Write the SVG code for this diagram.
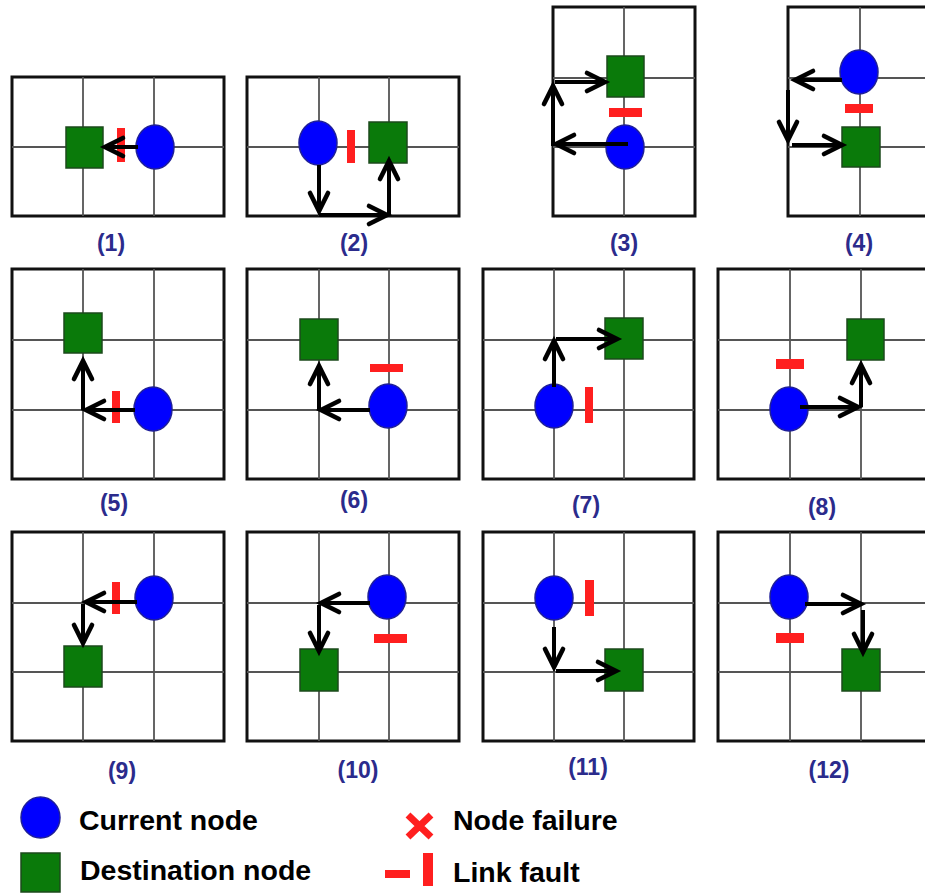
<svg xmlns="http://www.w3.org/2000/svg" width="925" height="895" viewBox="0 0 925 895">
<defs>
<style>
.frame{fill:#fff;stroke:#111;stroke-width:3}
.grid{stroke:#555;stroke-width:1.8;fill:none}
.cur{fill:#0000ff;stroke:#1f1f9a;stroke-width:1.5}
.dst{fill:#0a7a0a;stroke:#1c4a1c;stroke-width:1.5}
.flt{fill:#ff1f1f}
.arr{stroke:#000;stroke-width:4;fill:none;marker-end:url(#ah)}
.lbl{font-family:"Liberation Sans",Arial,sans-serif;font-weight:bold;font-size:23px;fill:#2b2b8c;text-anchor:middle}
.leg{font-family:"Liberation Sans",Arial,sans-serif;font-weight:bold;font-size:28.5px;fill:#000}
</style>
<marker id="ah" markerUnits="userSpaceOnUse" viewBox="-26 -16 32 32" refX="0" refY="0" markerWidth="32" markerHeight="32" orient="auto">
<path d="M-18,-9 L0,0 L-18,9" fill="none" stroke="#000" stroke-width="4.6" stroke-linecap="round"/>
</marker>
</defs>
<rect width="925" height="895" fill="#fff"/>

<g id="panel1">
<rect class="frame" x="12" y="77" width="212" height="139"/>
<path class="grid" d="M83,77V216M154,77V216M12,147H224"/>
<rect class="dst" x="66" y="127" width="37" height="41"/>
<rect class="flt" x="117" y="128" width="8" height="34"/>
<ellipse class="cur" cx="155" cy="147" rx="19" ry="22"/>
<text class="lbl" x="111" y="251">(1)</text>
</g>
<g id="panel2">
<rect class="frame" x="247" y="77" width="212" height="139"/>
<path class="grid" d="M319,77V216M389,77V216M247,147H459"/>
<ellipse class="cur" cx="318" cy="143" rx="19" ry="22"/>
<rect class="flt" x="347" y="130" width="8" height="33"/>
<rect class="dst" x="369" y="122" width="38" height="41"/>
<text class="lbl" x="354" y="251">(2)</text>
</g>
<g id="panel3">
<rect class="frame" x="553" y="7" width="142" height="209"/>
<path class="grid" d="M624,7V216M553,78H695M553,147H695"/>
<rect class="dst" x="607" y="56" width="37" height="41"/>
<rect class="flt" x="609" y="108" width="33" height="9"/>
<ellipse class="cur" cx="625" cy="147" rx="19" ry="22"/>
<text class="lbl" x="624" y="251">(3)</text>
</g>
<g id="panel4">
<rect class="frame" x="788" y="7" width="142" height="209"/>
<path class="grid" d="M860,7V216M788,78H930M788,147H930"/>
<ellipse class="cur" cx="859" cy="72" rx="19" ry="22"/>
<rect class="flt" x="845" y="104" width="28" height="9"/>
<rect class="dst" x="842" y="127" width="38" height="40"/>
<text class="lbl" x="859" y="251">(4)</text>
</g>

<g id="panel5">
<rect class="frame" x="12" y="269" width="212" height="210"/>
<path class="grid" d="M83,269V479M154,269V479M12,340H224M12,410H224"/>
<rect class="dst" x="64" y="313" width="38" height="40"/>
<rect class="flt" x="112" y="391" width="8" height="32"/>
<ellipse class="cur" cx="153" cy="409" rx="19" ry="22"/>
<text class="lbl" x="114" y="511">(5)</text>
</g>
<g id="panel6">
<rect class="frame" x="247" y="269" width="212" height="210"/>
<path class="grid" d="M319,269V479M389,269V479M247,340H459M247,410H459"/>
<rect class="dst" x="300" y="319" width="38" height="41"/>
<rect class="flt" x="370" y="364" width="33" height="8"/>
<ellipse class="cur" cx="388" cy="406" rx="19" ry="22"/>
<text class="lbl" x="354" y="508">(6)</text>
</g>
<g id="panel7">
<rect class="frame" x="483" y="269" width="211" height="210"/>
<path class="grid" d="M554,269V479M624,269V479M483,340H694M483,410H694"/>
<rect class="dst" x="605" y="318" width="38" height="41"/>
<ellipse class="cur" cx="554" cy="406" rx="19" ry="22"/>
<rect class="flt" x="585" y="387" width="8" height="36"/>
<text class="lbl" x="586" y="513">(7)</text>
</g>
<g id="panel8">
<rect class="frame" x="718" y="269" width="211" height="210"/>
<path class="grid" d="M790,269V479M861,269V479M718,340H929M718,410H929"/>
<rect class="dst" x="847" y="319" width="37" height="41"/>
<rect class="flt" x="776" y="359" width="28" height="10"/>
<ellipse class="cur" cx="789" cy="409" rx="19" ry="22"/>
<text class="lbl" x="822" y="515">(8)</text>
</g>

<g id="panel9">
<rect class="frame" x="12" y="532" width="212" height="209"/>
<path class="grid" d="M83,532V741M154,532V741M12,603H224M12,672H224"/>
<rect class="flt" x="112" y="582" width="8" height="32"/>
<ellipse class="cur" cx="154" cy="598" rx="19" ry="22"/>
<rect class="dst" x="64" y="646" width="38" height="41"/>
<text class="lbl" x="122" y="779">(9)</text>
</g>
<g id="panel10">
<rect class="frame" x="247" y="532" width="212" height="209"/>
<path class="grid" d="M319,532V741M389,532V741M247,603H459M247,672H459"/>
<ellipse class="cur" cx="387" cy="597" rx="19" ry="22"/>
<rect class="flt" x="374" y="634" width="33" height="9"/>
<rect class="dst" x="300" y="649" width="38" height="42"/>
<text class="lbl" x="358" y="778">(10)</text>
</g>
<g id="panel11">
<rect class="frame" x="483" y="532" width="211" height="209"/>
<path class="grid" d="M554,532V741M624,532V741M483,603H694M483,672H694"/>
<ellipse class="cur" cx="554" cy="598" rx="19" ry="22"/>
<rect class="flt" x="585" y="580" width="9" height="36"/>
<rect class="dst" x="605" y="649" width="38" height="42"/>
<text class="lbl" x="588" y="775">(11)</text>
</g>
<g id="panel12">
<rect class="frame" x="718" y="532" width="211" height="209"/>
<path class="grid" d="M790,532V741M861,532V741M718,603H929M718,672H929"/>
<ellipse class="cur" cx="789" cy="597" rx="19" ry="22"/>
<rect class="flt" x="776" y="633" width="28" height="10"/>
<rect class="dst" x="842" y="649" width="38" height="42"/>
<text class="lbl" x="829" y="778">(12)</text>
</g>

<g id="connectors">
<path class="arr" d="M138,147H105"/>
<path class="arr" d="M319,165V211"/>
<path class="arr" d="M319,215H387"/>
<path class="arr" d="M389,215V161"/>
<path class="arr" d="M628,144H556"/>
<path class="arr" d="M553,146V86"/>
<path class="arr" d="M555,82H605"/>
<path class="arr" d="M842,80H795"/>
<path class="arr" d="M788,90V140"/>
<path class="arr" d="M792,145H842"/>
<path class="arr" d="M135,410H86"/>
<path class="arr" d="M83,410V361"/>
<path class="arr" d="M370,410H321"/>
<path class="arr" d="M319,410V366"/>
<path class="arr" d="M554,387V341"/>
<path class="arr" d="M556,339H617"/>
<path class="arr" d="M800,407H858"/>
<path class="arr" d="M861,407V365"/>
<path class="arr" d="M137,602H86"/>
<path class="arr" d="M83,604V643"/>
<path class="arr" d="M370,603H321"/>
<path class="arr" d="M319,605V651"/>
<path class="arr" d="M554,627V667"/>
<path class="arr" d="M556,671H616"/>
<path class="arr" d="M805,604H861"/>
<path class="arr" d="M863,610V652"/>
</g>

<g id="legend">
<ellipse class="cur" cx="40.5" cy="817.5" rx="19.5" ry="20.5"/>
<text class="leg" x="79" y="830">Current node</text>
<rect class="dst" x="21" y="853" width="39" height="39"/>
<text class="leg" x="80" y="880">Destination node</text>
<path d="M408,815L431,837M431,815L408,837" stroke="#ff1f1f" stroke-width="7" fill="none"/>
<text class="leg" x="453" y="830">Node failure</text>
<rect class="flt" x="385" y="870" width="25" height="8"/>
<rect class="flt" x="423" y="853" width="10" height="33"/>
<text class="leg" x="453" y="882">Link fault</text>
</g>
</svg>
